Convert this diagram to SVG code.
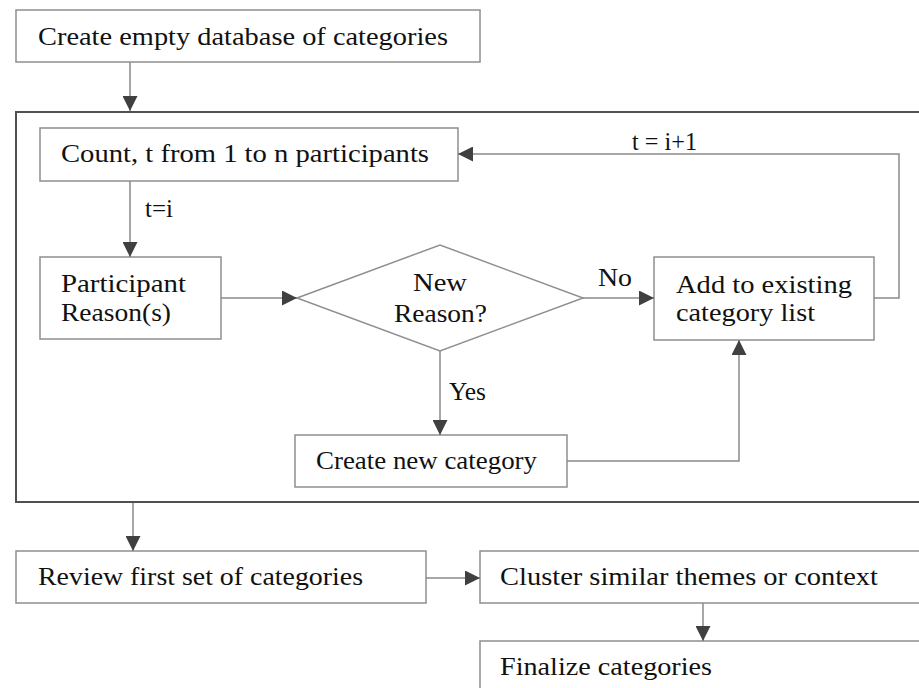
<svg xmlns="http://www.w3.org/2000/svg" width="919" height="688" viewBox="0 0 919 688">
<style>
.box{fill:#fff;stroke:#8f8f8f;stroke-width:1.5}
.frame{fill:none;stroke:#505050;stroke-width:2}
.con{fill:none;stroke:#8a8a8a;stroke-width:1.5}
text{font-family:"Liberation Serif","Times New Roman",serif;font-size:26px;fill:#111}
</style>
<defs>
<marker id="ah" markerUnits="userSpaceOnUse" markerWidth="15" markerHeight="15" refX="15" refY="7.5" orient="auto">
<path d="M0,0 L15,7.5 L0,15 z" fill="#404040"/>
</marker>
</defs>
<rect width="919" height="688" fill="#fff"/>
<rect id="frame" class="frame" x="16" y="112" width="920" height="390"/>
<g id="n1"><rect class="box" x="16" y="10" width="464" height="52"/><text x="38" y="45" textLength="410" lengthAdjust="spacingAndGlyphs">Create empty database of categories</text></g>
<g id="n2"><rect class="box" x="40" y="128" width="418" height="53"/><text x="61" y="162" textLength="368" lengthAdjust="spacingAndGlyphs">Count, t from 1 to n participants</text></g>
<g id="n3"><rect class="box" x="40" y="257" width="181" height="82"/><text x="61" y="292" textLength="125" lengthAdjust="spacingAndGlyphs">Participant</text><text x="61" y="321" textLength="110" lengthAdjust="spacingAndGlyphs">Reason(s)</text></g>
<g id="n4"><polygon class="box" points="297,298 440,245 583,298 440,351"/><text x="413" y="291" textLength="54" lengthAdjust="spacingAndGlyphs">New</text><text x="394" y="322" textLength="93" lengthAdjust="spacingAndGlyphs">Reason?</text></g>
<g id="n5"><rect class="box" x="654" y="257" width="220" height="83"/><text x="676" y="293" textLength="176" lengthAdjust="spacingAndGlyphs">Add to existing</text><text x="676" y="321" textLength="139" lengthAdjust="spacingAndGlyphs">category list</text></g>
<g id="n6"><rect class="box" x="295" y="435" width="272" height="52"/><text x="316" y="469" textLength="221" lengthAdjust="spacingAndGlyphs">Create new category</text></g>
<g id="n7"><rect class="box" x="16" y="551" width="410" height="52"/><text x="38" y="585" textLength="325" lengthAdjust="spacingAndGlyphs">Review first set of categories</text></g>
<g id="n8"><rect class="box" x="480" y="551" width="450" height="52"/><text x="500" y="585" textLength="378" lengthAdjust="spacingAndGlyphs">Cluster similar themes or context</text></g>
<g id="n9"><rect class="box" x="480" y="641" width="450" height="52"/><text x="500" y="675" textLength="212" lengthAdjust="spacingAndGlyphs">Finalize categories</text></g>
<g id="connectors">
<path class="con" d="M130,62 V111" marker-end="url(#ah)"/>
<path class="con" d="M130,181 V257" marker-end="url(#ah)"/>
<path class="con" d="M221,298 H297" marker-end="url(#ah)"/>
<path class="con" d="M583,298 H654" marker-end="url(#ah)"/>
<path class="con" d="M440,351 V435" marker-end="url(#ah)"/>
<path class="con" d="M567,461 H739 V340" marker-end="url(#ah)"/>
<path class="con" d="M874,298 H899 V154 H458" marker-end="url(#ah)"/>
<path class="con" d="M133,503 V551" marker-end="url(#ah)"/>
<path class="con" d="M426,578 H480" marker-end="url(#ah)"/>
<path class="con" d="M703,603 V641" marker-end="url(#ah)"/>
<text x="145" y="217" textLength="28" lengthAdjust="spacingAndGlyphs">t=i</text>
<text x="598" y="286" textLength="34" lengthAdjust="spacingAndGlyphs">No</text>
<text x="632" y="150" textLength="65" lengthAdjust="spacingAndGlyphs">t = i+1</text>
<text x="449" y="400" textLength="37" lengthAdjust="spacingAndGlyphs">Yes</text>
</g>
</svg>
